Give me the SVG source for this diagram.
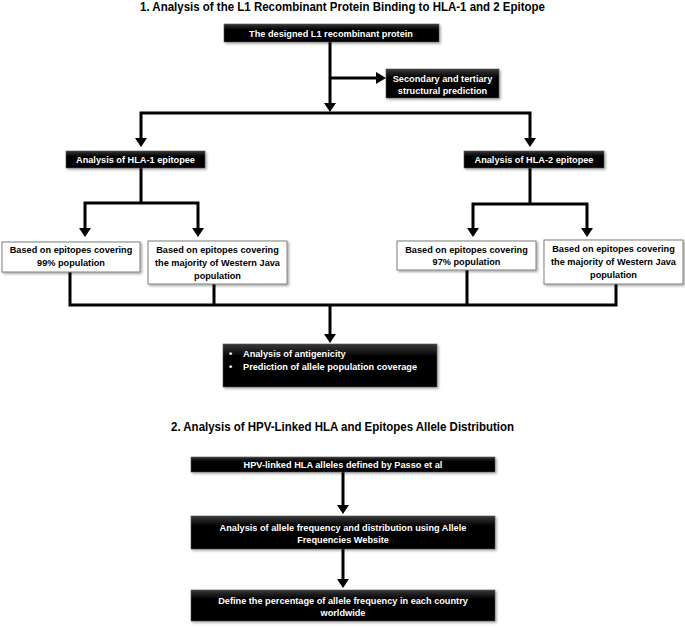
<svg xmlns="http://www.w3.org/2000/svg" width="685" height="628" viewBox="0 0 685 628">
<style>
.title{font-family:"Liberation Sans",Arial,sans-serif;font-weight:bold;font-size:12.5px;fill:#000;text-anchor:middle}
.bt{font-family:"Liberation Sans",Arial,sans-serif;font-weight:bold;font-size:9.2px;fill:#fff;text-anchor:middle}
.wt{font-family:"Liberation Sans",Arial,sans-serif;font-weight:bold;font-size:9.2px;fill:#000;text-anchor:middle}
.lt{font-family:"Liberation Sans",Arial,sans-serif;font-weight:bold;font-size:9.2px;fill:#fff}
.blk{fill:url(#g);stroke:#555;stroke-width:0.6;filter:url(#sh)}
.wht{fill:#fff;stroke:#7f7f7f;stroke-width:1;filter:url(#sh)}
.ln{fill:none;stroke:#000;stroke-width:3}
.ar{fill:none;stroke:#000;stroke-width:3;marker-end:url(#ah)}
</style>
<defs>
<linearGradient id="g" x1="0" y1="0" x2="0" y2="1">
<stop offset="0" stop-color="#3a3a3a"/>
<stop offset="0.3" stop-color="#000"/>
<stop offset="1" stop-color="#000"/>
</linearGradient>
<filter id="sh" x="-10%" y="-30%" width="120%" height="170%">
<feDropShadow dx="1.5" dy="1.5" stdDeviation="1" flood-color="#000" flood-opacity="0.35"/>
</filter>
<marker id="ah" markerWidth="4" markerHeight="4" refX="3" refY="2" orient="auto" markerUnits="strokeWidth">
<path d="M0,0 L3,2 L0,4 Z" fill="#000"/>
</marker>
</defs>

<text class="title" x="342.5" y="11" textLength="405" lengthAdjust="spacingAndGlyphs">1. Analysis of the L1 Recombinant Protein Binding to HLA-1 and 2 Epitope</text>
<text class="title" x="342.5" y="431" textLength="343" lengthAdjust="spacingAndGlyphs">2. Analysis of HPV-Linked HLA and Epitopes Allele Distribution</text>

<g id="connectors">
<line class="ln" x1="330" y1="42" x2="330" y2="104"/>
<path d="M324,103 L336,103 L330,112 Z"/>
<line class="ln" x1="330" y1="78" x2="377" y2="78"/>
<path d="M376,72 L376,84 L386,78 Z"/>
<polyline class="ln" points="141,140 141,113 530,113 530,140"/>
<path d="M135,138 L147,138 L141,147 Z"/>
<path d="M524,138 L536,138 L530,147 Z"/>
<line class="ln" x1="141" y1="168" x2="141" y2="203"/>
<polyline class="ln" points="85,230 85,203 198,203 198,230"/>
<path d="M79,228 L91,228 L85,237 Z"/>
<path d="M192,228 L204,228 L198,237 Z"/>
<line class="ln" x1="530" y1="168" x2="530" y2="204"/>
<polyline class="ln" points="473,230 473,204 587,204 587,230"/>
<path d="M467,228 L479,228 L473,237 Z"/>
<path d="M581,228 L593,228 L587,237 Z"/>
<polyline class="ln" points="70,272 70,305 616,305 616,284"/>
<line class="ln" x1="214" y1="284" x2="214" y2="305"/>
<line class="ln" x1="467" y1="270" x2="467" y2="305"/>
<line class="ln" x1="330" y1="305" x2="330" y2="336"/>
<path d="M324,334 L336,334 L330,343 Z"/>
<line class="ln" x1="343" y1="472" x2="343" y2="506"/>
<path d="M337,505 L349,505 L343,514 Z"/>
<line class="ln" x1="343" y1="549" x2="343" y2="580"/>
<path d="M337,579 L349,579 L343,588 Z"/>
</g>

<g id="n_top">
<rect class="blk" x="224" y="24" width="215" height="18"/>
<text class="bt" x="331" y="36.5">The designed L1 recombinant protein</text>
</g>
<g id="n_secondary">
<rect class="blk" x="386" y="69" width="113" height="29"/>
<text class="bt" x="442.5" y="81.5">Secondary and tertiary</text>
<text class="bt" x="442.5" y="93.5">structural prediction</text>
</g>
<g id="n_hla1">
<rect class="blk" x="66" y="151" width="139" height="17"/>
<text class="bt" x="135.5" y="163">Analysis of HLA-1 epitopee</text>
</g>
<g id="n_hla2">
<rect class="blk" x="464" y="151" width="140" height="17"/>
<text class="bt" x="534" y="163">Analysis of HLA-2 epitopee</text>
</g>
<g id="n_99">
<rect class="wht" x="2" y="242" width="138" height="30"/>
<text class="wt" x="71" y="253">Based on epitopes covering</text>
<text class="wt" x="71" y="266">99% population</text>
</g>
<g id="n_wj1">
<rect class="wht" x="148" y="241" width="139" height="43"/>
<text class="wt" x="217.5" y="252.5">Based on epitopes covering</text>
<text class="wt" x="217.5" y="265.5">the majority of Western Java</text>
<text class="wt" x="217.5" y="278.5">population</text>
</g>
<g id="n_97">
<rect class="wht" x="397" y="241" width="139" height="29"/>
<text class="wt" x="466.5" y="252.5">Based on epitopes covering</text>
<text class="wt" x="466.5" y="265">97% population</text>
</g>
<g id="n_wj2">
<rect class="wht" x="544" y="240" width="139" height="44"/>
<text class="wt" x="613.5" y="252">Based on epitopes covering</text>
<text class="wt" x="613.5" y="265">the majority of Western Java</text>
<text class="wt" x="613.5" y="278">population</text>
</g>
<g id="n_result">
<rect class="blk" x="223" y="344" width="214" height="43"/>
<text class="lt" x="229" y="357">•</text>
<text class="lt" x="243" y="357">Analysis of antigenicity</text>
<text class="lt" x="229" y="370">•</text>
<text class="lt" x="243" y="370">Prediction of allele population coverage</text>
</g>
<g id="n_passo">
<rect class="blk" x="191" y="457" width="304" height="15"/>
<text class="bt" x="343" y="468">HPV-linked HLA alleles defined by Passo et al</text>
</g>
<g id="n_freq">
<rect class="blk" x="191" y="516" width="304" height="33"/>
<text class="bt" x="343" y="531">Analysis of allele frequency and distribution using Allele</text>
<text class="bt" x="343" y="543">Frequencies Website</text>
</g>
<g id="n_define">
<rect class="blk" x="191" y="590" width="304" height="31"/>
<text class="bt" x="343" y="603.5">Define the percentage of allele frequency in each country</text>
<text class="bt" x="343" y="615.5">worldwide</text>
</g>
</svg>
